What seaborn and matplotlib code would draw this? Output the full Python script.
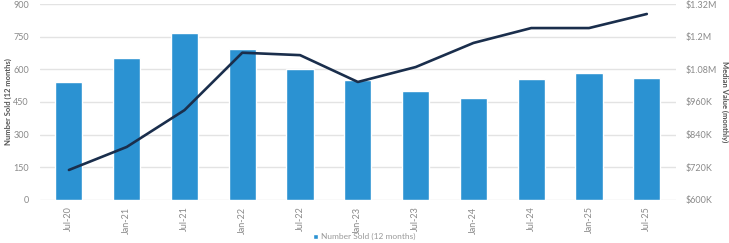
import numpy as np
import pandas as pd
import matplotlib
matplotlib.use("Agg")
import matplotlib.pyplot as plt
import seaborn as sns

periods = ["Jul-20", "Jan-21", "Jul-21", "Jan-22", "Jul-22", "Jan-23",
           "Jul-23", "Jan-24", "Jul-24", "Jan-25", "Jul-25"]
number_sold = [542, 654, 767, 693, 602, 551, 501, 467, 555, 582, 562]
median_value_k = [709, 794, 930, 1142, 1133, 1034, 1089, 1178, 1233, 1233, 1285]

left_ticks = [0, 150, 300, 450, 600, 750, 900]
right_ticks = [600, 720, 840, 960, 1080, 1200, 1320]
right_labels = ["$600K", "$720K", "$840K", "$960K", "$1.08M", "$1.2M", "$1.32M"]

sns.set_style("white")
plt.rcParams["font.family"] = ["Lato", "DejaVu Sans"]

df = pd.DataFrame({"period": periods, "sold": number_sold,
                   "value": median_value_k, "pos": np.arange(len(periods))})

fig = plt.figure(figsize=(7.29, 2.43), dpi=100)
ax = fig.add_axes([0.0549, 0.179, 0.872, 0.8025])

bar_color = "#2B92D2"
line_color = "#1A2E4C"
tick_color = "#8A8A8A"

sns.barplot(data=df, x="period", y="sold", color=bar_color, width=0.47,
            saturation=1, ax=ax, zorder=2, label="Number Sold (12 months)")
ax.set_ylim(0, 900)
ax.set_xlim(-0.5, len(periods) - 0.5)
ax.set_yticks(left_ticks)
ax.yaxis.grid(True, color="#E3E3E3", linewidth=1.0, zorder=0)
ax.set_axisbelow(True)
for s in ax.spines.values():
    s.set_visible(False)
ax.tick_params(axis="y", labelsize=6.5, colors=tick_color, length=0, pad=8)
ax.tick_params(axis="x", labelsize=6.5, colors=tick_color, length=0, pad=5,
               labelrotation=90)
ax.set_xlabel("")
ax.set_ylabel("Number Sold (12 months)", fontsize=5.5, color="#555555",
              fontweight="bold")
ax.yaxis.set_label_coords(-0.044, 0.5)
handles, labels = ax.get_legend_handles_labels()
if ax.get_legend():
    ax.get_legend().remove()
fig.legend(handles, labels, loc="lower center", bbox_to_anchor=(0.5, -0.01),
           bbox_transform=fig.transFigure, frameon=False, fontsize=6,
           handlelength=0.6, handleheight=0.6, labelcolor="#999999",
           borderpad=0.1, handletextpad=0.4)

ax2 = ax.twinx()
sns.lineplot(data=df, x="pos", y="value", color=line_color, linewidth=1.9,
             ax=ax2, zorder=3)
ax2.set_ylim(600, 1320)
ax2.set_yticks(right_ticks)
ax2.set_yticklabels(right_labels)
ax2.set_xlim(-0.5, len(periods) - 0.5)
for s in ax2.spines.values():
    s.set_visible(False)
ax2.tick_params(axis="y", labelsize=6.5, colors=tick_color, length=0, pad=7)
ax2.set_ylabel("Median Value (monthly)", fontsize=5.5, color="#555555",
               fontweight="bold", rotation=-90, labelpad=8)
ax2.set_xlabel("")

fig.savefig("out.png", dpi=100)
